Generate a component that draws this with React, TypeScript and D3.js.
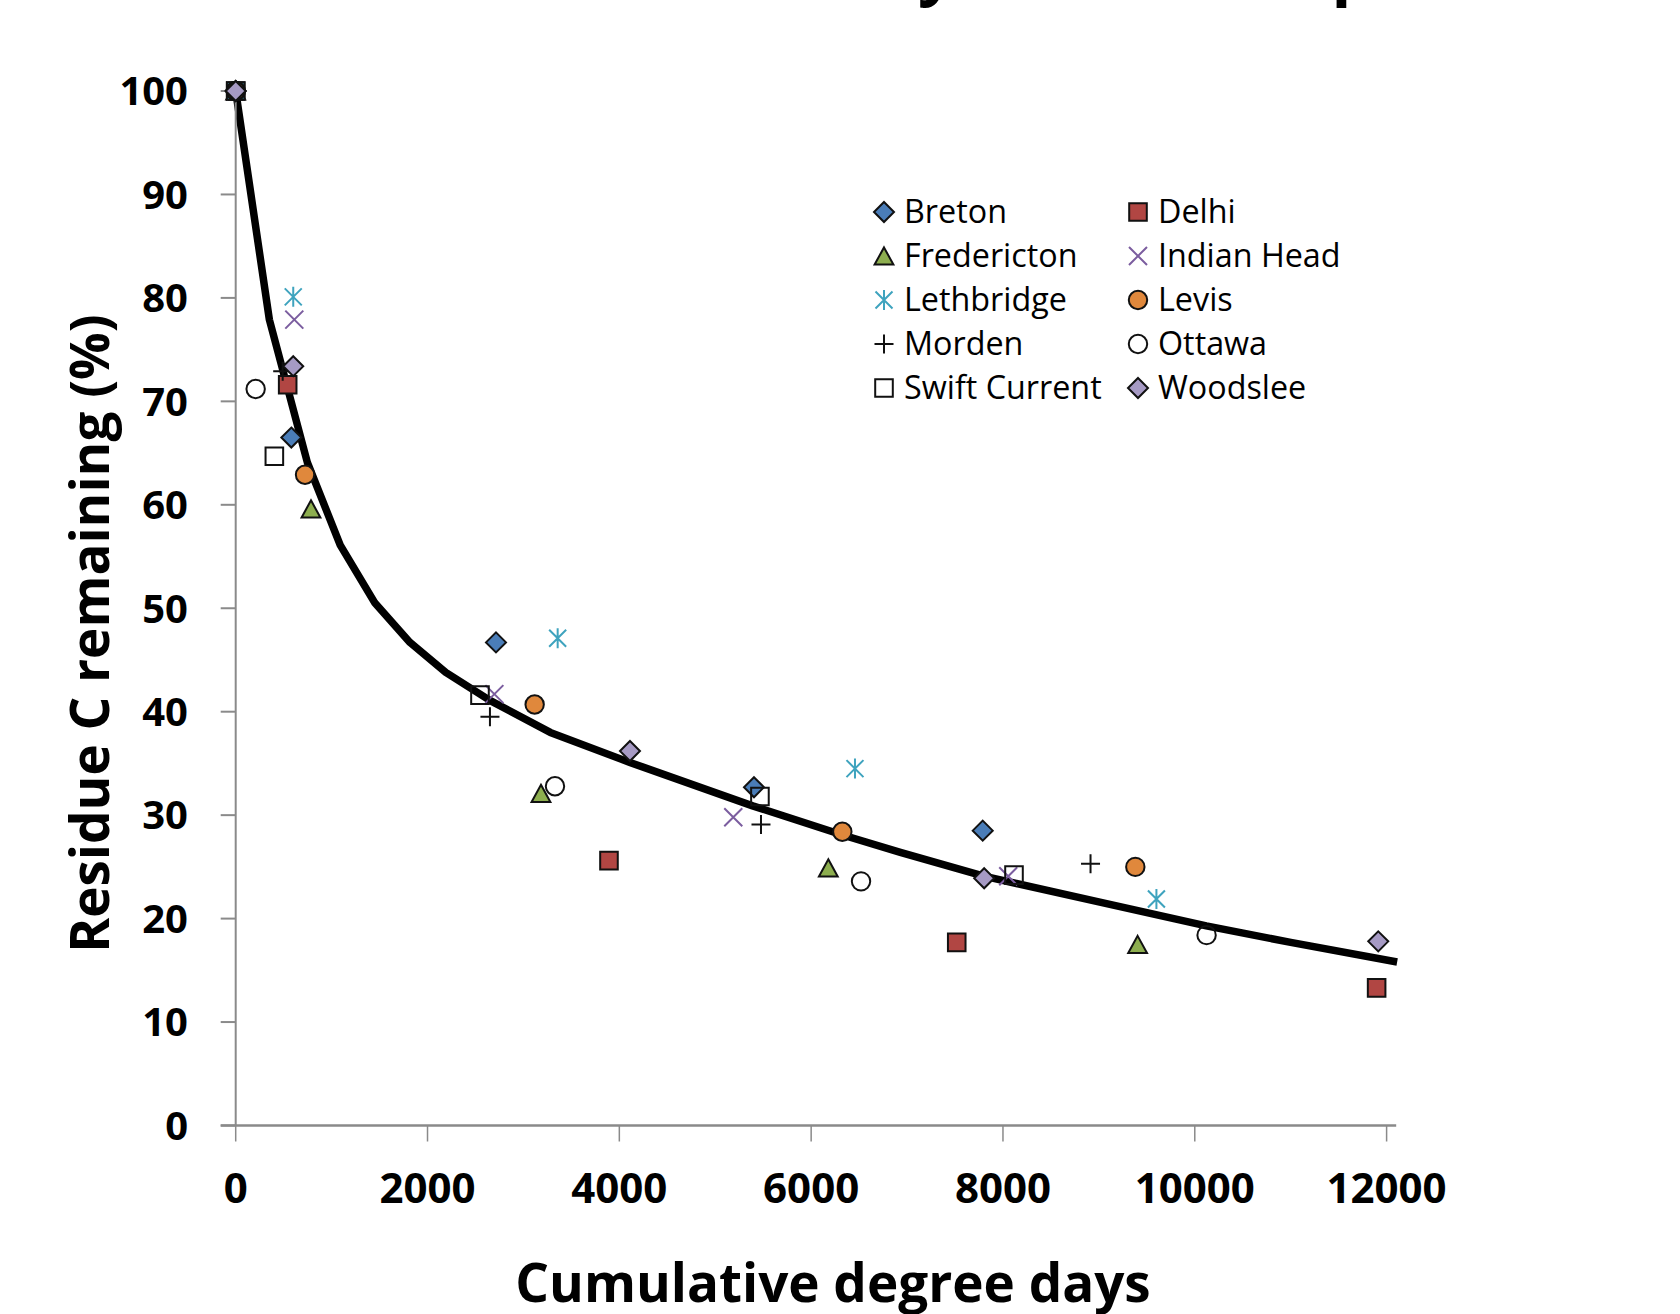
import React from 'react'
import * as d3 from 'd3'

// site observations: [cumulative degree days, residue C remaining %]
const sites = ['Breton', 'Delhi', 'Fredericton', 'Indian Head', 'Lethbridge', 'Levis', 'Morden', 'Ottawa', 'Swift Current', 'Woodslee']

const breton = [[0, 100], [580, 66.5], [2714, 46.7], [5404, 32.7], [7789, 28.5]]
const delhi = [[0, 100], [542, 71.6], [3892, 25.6], [7518, 17.7], [11896, 13.3]]
const fredericton = [[0, 100], [785, 59.6], [3183, 32.1], [6179, 24.9], [9404, 17.5]]
const indianHead = [[0, 100], [611, 77.9], [2697, 41.7], [5188, 29.8], [8055, 24.1]]
const lethbridge = [[0, 100], [600, 80.1], [3357, 47.1], [6457, 34.5], [9600, 21.9]]
const levis = [[0, 100], [723, 62.9], [3117, 40.7], [6325, 28.4], [9380, 25.0]]
const morden = [[0, 100], [490, 72.9], [2651, 39.5], [5477, 29.1], [8913, 25.3]]
const ottawa = [[0, 100], [208, 71.2], [3329, 32.8], [6520, 23.6], [10123, 18.4]]
const swiftCurrent = [[0, 100], [403, 64.7], [2547, 41.6], [5466, 31.8], [8115, 24.2]]
const woodslee = [[0, 100], [600, 73.4], [4111, 36.2], [7804, 23.9], [11913, 17.8]]

const siteData = [breton, delhi, fredericton, indianHead, lethbridge, levis, morden, ottawa, swiftCurrent, woodslee]

// fitted decay line
const fitCdd = [0, 351, 747, 1090, 1452, 1817, 2190, 2650, 3280, 4110, 5390, 6320, 6930, 7800, 9010, 10120, 11000, 12110]
const fitPct = [100, 77.9, 64.1, 56.1, 50.5, 46.7, 43.8, 41.1, 38.0, 35.1, 30.9, 28.1, 26.4, 24.1, 21.6, 19.3, 17.7, 15.8]

const xTicks = [0, 2000, 4000, 6000, 8000, 10000, 12000]
const yTicks = [0, 10, 20, 30, 40, 50, 60, 70, 80, 90, 100]

const shapes = ['diamond', 'square', 'triangle', 'x', 'asterisk', 'circle', 'plus', 'circle', 'square', 'diamond']
const fills = ['#4a7db8', '#b14643', '#8dae4f', 'none', 'none', '#e0883c', 'none', 'none', 'none', '#a69ac4']
const strokes = ['#111', '#111', '#111', '#7b5d9f', '#3ea3be', '#111', '#111', '#111', '#111', '#111']

const W = 1680
const H = 1314
const font = '"Open Sans", "Noto Sans", sans-serif'

function Marker({ shape, x, y, fill, stroke }) {
  const t = `translate(${x},${y})`
  if (shape === 'circle') return <circle transform={t} r={9.2} fill={fill} stroke={stroke} strokeWidth={2} />
  let d = ''
  if (shape === 'diamond') d = 'M0,-10L10,0L0,10L-10,0Z'
  if (shape === 'square') d = 'M-8.8,-8.8H8.8V8.8H-8.8Z'
  if (shape === 'triangle') d = 'M0,-8.6L9.4,8.6L-9.4,8.6Z'
  if (shape === 'x') d = 'M-9,-9L9,9M-9,9L9,-9'
  if (shape === 'asterisk') d = 'M-8.5,-8.5L8.5,8.5M-8.5,8.5L8.5,-8.5M0,-10V10'
  if (shape === 'plus') d = 'M-9.5,0H9.5M0,-9.5V9.5'
  const lineOnly = shape === 'x' || shape === 'asterisk' || shape === 'plus'
  return <path transform={t} d={d} fill={lineOnly ? 'none' : fill} stroke={stroke}
    strokeWidth={2} strokeLinejoin="miter" />
}

export default function App() {
  const x = d3.scaleLinear().domain([0, 12000]).range([235.7, 1386.6])
  const y = d3.scaleLinear().domain([0, 100]).range([1125.5, 91])

  const line = d3.line<number>()
    .x((_, i) => x(fitCdd[i]))
    .y((_, i) => y(fitPct[i]))
    .curve(d3.curveLinear)

  const axisColor = '#8a8a8a'

  return (
    <div style={{ position: 'absolute', left: 0, top: 0 }}>
      <svg width={W} height={H} style={{ display: 'block', background: '#fff' }} fontFamily={font}>
        {/* clipped chart title, only its descenders show */}
        <text x={435} y={-8.5} fontSize={65} fontWeight={700} fill="#000">Residue C decay versus temperature</text>

        {/* fitted line */}
        <path d={line(fitPct) || ''} fill="none" stroke="#000" strokeWidth={7.5} strokeLinejoin="round" />

        {/* axes */}
        <line x1={x(0)} x2={x(0)} y1={y(0)} y2={y(100)} stroke={axisColor} strokeWidth={2} />
        <line x1={x(0) - 15} x2={x(12100)} y1={y(0)} y2={y(0)} stroke={axisColor} strokeWidth={2.5} />
        {yTicks.map(t => (
          <g key={'y' + t}>
            <line x1={x(0) - 15} x2={x(0)} y1={y(t)} y2={y(t)} stroke={axisColor} strokeWidth={2} />
            <text x={188} y={y(t) + 14.3} textAnchor="end" fontSize={40} fontWeight={700}>{t}</text>
          </g>
        ))}
        {xTicks.map(t => (
          <g key={'x' + t}>
            <line x1={x(t)} x2={x(t)} y1={y(0)} y2={y(0) + 16} stroke={axisColor} strokeWidth={1.5} />
            <text x={x(t)} y={1203} textAnchor="middle" fontSize={42} fontWeight={700}>{t}</text>
          </g>
        ))}

        {/* markers */}
        {siteData.map((pts, si) => (
          <g key={sites[si]}>
            {pts.map((p, j) => (
              <Marker key={j} shape={shapes[si]} x={x(p[0])} y={y(p[1])} fill={fills[si]} stroke={strokes[si]} />
            ))}
          </g>
        ))}

        {/* axis titles */}
        <text x={833} y={1302} textAnchor="middle" fontSize={53} fontWeight={700}>Cumulative degree days</text>
        <text transform={`translate(109,633.5) rotate(-90)`} textAnchor="middle" fontSize={53} fontWeight={700}>Residue C remaining (%)</text>

        {/* legend */}
        {sites.map((s, i) => {
          const col = i % 2
          const row = Math.floor(i / 2)
          const mx = col === 0 ? 884 : 1138
          const my = 212 + row * 44
          return (
            <g key={'lg' + s}>
              <Marker shape={shapes[i]} x={mx} y={my} fill={fills[i]} stroke={strokes[i]} />
              <text x={mx + 20} y={my + 11.3} fontSize={32.3}>{s}</text>
            </g>
          )
        })}
      </svg>
    </div>
  )
}
